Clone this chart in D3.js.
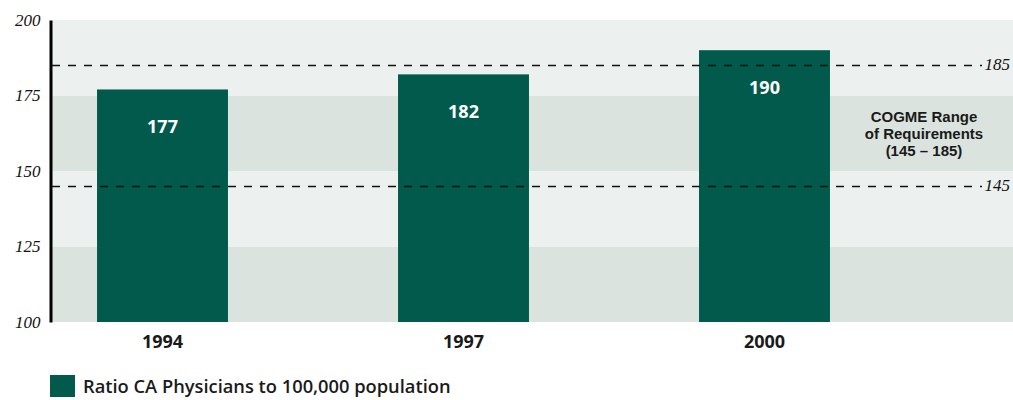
<!DOCTYPE html>
<html>
<head>
<meta charset="utf-8">
<script src="https://cdn.jsdelivr.net/npm/d3@7"></script>
<style>
  html, body { margin: 0; padding: 0; background: #fff; }
  svg { display: block; }
</style>
</head>
<body>
<div id="chart"></div>
<script>
// Physicians per 100,000 population, California
const years = ["1994", "1997", "2000"];
const ratios = [177, 182, 190];
const yTicks = [100, 125, 150, 175, 200];
const rangeBounds = [145, 185];
const rangeLabel = ["COGME Range", "of Requirements", "(145 – 185)"];
const legendLabel = "Ratio CA Physicians to 100,000 population";

const W = 1013, H = 400;
const plot = { left: 52, right: 1013, top: 20, bottom: 322 };

const svg = d3.select("#chart").append("svg")
  .attr("width", W).attr("height", H);

const y = d3.scaleLinear().domain([100, 200]).range([plot.bottom, plot.top]);
const x = d3.scaleBand().domain(years).range([12, 915])
  .paddingInner(0.565).paddingOuter(0.2825);

const green = "#015a4b";

// alternating background bands
const bands = d3.pairs(yTicks);
svg.append("g").selectAll("rect").data(bands).join("rect")
  .attr("x", plot.left)
  .attr("width", plot.right - plot.left)
  .attr("y", d => y(d[1]))
  .attr("height", d => y(d[0]) - y(d[1]))
  .attr("fill", (d, i) => i % 2 === 0 ? "#dbe3de" : "#ecf0ef");

// bars
svg.append("g").selectAll("rect").data(ratios).join("rect")
  .attr("x", (d, i) => x(years[i]))
  .attr("width", x.bandwidth())
  .attr("y", d => y(d))
  .attr("height", d => y(100) - y(d))
  .attr("fill", green);

// value labels inside bars
svg.append("g").selectAll("text").data(ratios).join("text")
  .attr("x", (d, i) => x(years[i]) + x.bandwidth() / 2)
  .attr("y", d => y(d) + 44)
  .attr("text-anchor", "middle")
  .attr("fill", "#fff")
  .style("font-family", "'Open Sans', sans-serif")
  .style("font-weight", 700)
  .style("font-size", "18px")
  .text(d => d);

// requirement range lines
const rangeG = svg.append("g");
rangeG.selectAll("line").data(rangeBounds).join("line")
  .attr("x1", plot.left).attr("x2", 982)
  .attr("y1", d => Math.round(y(d)) + 0.5).attr("y2", d => Math.round(y(d)) + 0.5)
  .attr("stroke", "#111")
  .attr("stroke-width", 1.5)
  .attr("stroke-dasharray", "8,8");
rangeG.selectAll("text").data(rangeBounds).join("text")
  .attr("x", 1010)
  .attr("y", d => y(d) + 5)
  .attr("text-anchor", "end")
  .style("font-family", "'Liberation Serif', 'Times New Roman', serif")
  .style("font-style", "italic")
  .style("font-size", "17px")
  .attr("fill", "#111")
  .text(d => d);

// range annotation, one text per line
svg.append("g").selectAll("text").data(rangeLabel).join("text")
  .attr("x", 924)
  .attr("y", (d, i) => 121.5 + i * 17)
  .attr("text-anchor", "middle")
  .attr("fill", "#1a1a1a")
  .style("font-family", "'Liberation Sans', Arial, sans-serif")
  .style("font-weight", 700)
  .style("font-size", "15px")
  .text(d => d);

// y axis
const yAxis = svg.append("g")
  .attr("transform", `translate(${plot.left - 1.5},0)`)
  .call(d3.axisLeft(y).tickValues(yTicks).tickSize(0).tickPadding(10));
yAxis.select(".domain")
  .attr("stroke", "#000")
  .attr("stroke-width", 3);
yAxis.selectAll("text")
  .style("font-family", "'Liberation Serif', 'Times New Roman', serif")
  .style("font-style", "italic")
  .style("font-size", "17px")
  .attr("fill", "#111");

// x axis labels
const xAxis = svg.append("g")
  .attr("transform", `translate(0,${plot.bottom})`)
  .call(d3.axisBottom(x).tickSize(0).tickPadding(13));
xAxis.select(".domain").remove();
xAxis.selectAll("text")
  .style("font-family", "'Open Sans', sans-serif")
  .style("font-weight", 700)
  .style("font-size", "18px")
  .attr("fill", "#1a1a1a");

// legend
const legend = svg.append("g");
legend.append("rect")
  .attr("x", 50).attr("y", 375)
  .attr("width", 25).attr("height", 22)
  .attr("fill", green);
legend.append("text")
  .attr("x", 83).attr("y", 393)
  .attr("fill", "#1a1a1a")
  .style("font-family", "'Open Sans', sans-serif")
  .style("font-weight", 600)
  .style("font-size", "18.3px")
  .text(legendLabel);
</script>
</body>
</html>
